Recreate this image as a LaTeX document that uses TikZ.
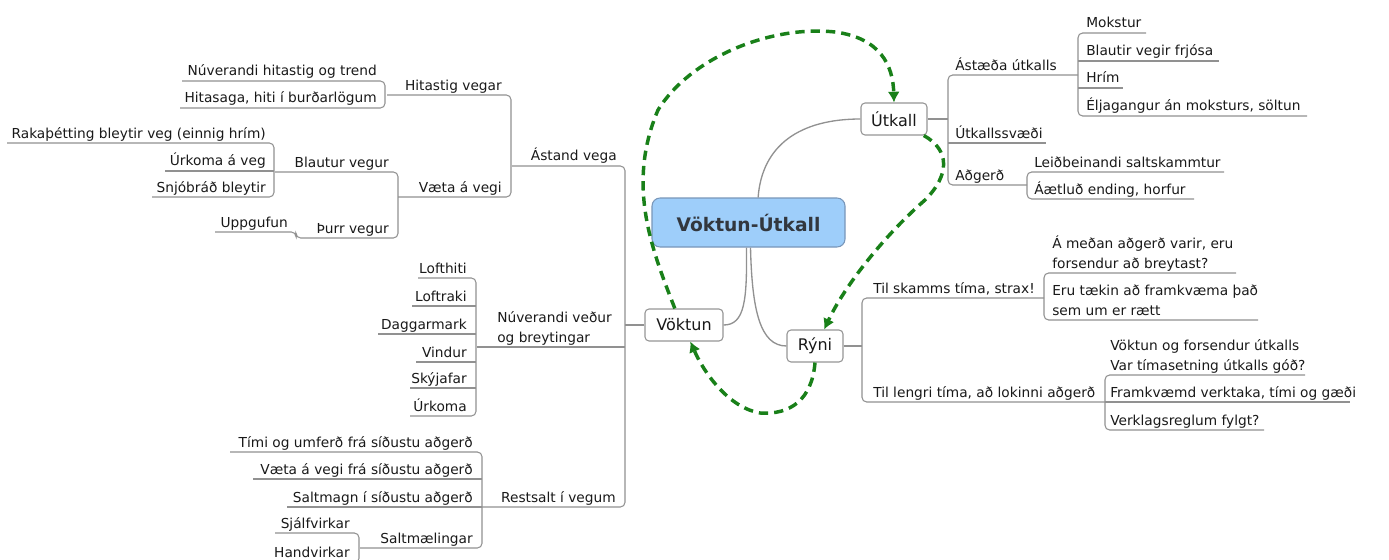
\documentclass[tikz,border=0pt]{standalone}
\usepackage{fontspec}
\setmainfont{DejaVu Sans}
\usetikzlibrary{arrows.meta,calc}
\definecolor{lnc}{RGB}{145,145,145}
\definecolor{txt}{RGB}{25,25,25}
\definecolor{boxc}{RGB}{150,150,150}
\definecolor{cenfill}{RGB}{158,206,250}
\definecolor{cenbord}{RGB}{120,150,185}
\definecolor{centxt}{RGB}{50,55,62}
\definecolor{dgreen}{RGB}{25,128,25}
\tikzset{
  lbl/.style={font=\fontsize{10.3}{14.6}\selectfont, text=txt, inner sep=0pt, align=left},
  lblr/.style={lbl, anchor=base east},
  lbll/.style={lbl, anchor=base west},
  ln/.style={draw=lnc, line width=0.8pt, rounded corners=3.5pt},
  cln/.style={draw=lnc, line width=1pt},
  topic/.style={draw=boxc, fill=white, rounded corners=3pt, line width=0.8pt, text=txt,
    font=\fontsize{12}{14}\selectfont, inner sep=0pt, minimum height=24pt},
  central/.style={draw=cenbord, fill=cenfill, rounded corners=6pt, line width=0.8pt, text=centxt,
    font=\fontsize{14}{16}\selectfont\bfseries, inner sep=0pt, minimum width=144.75pt, minimum height=36.75pt},
  dsh/.style={draw=dgreen, line width=2.6pt, dash pattern=on 7pt off 4.5pt, -{Latex[length=8pt,width=9pt]}}
}
\begin{document}
\begin{tikzpicture}[x=0.75pt,y=-0.75pt]
\useasboundingbox (0,0) rectangle (1389,560);

% main nodes
\node[central] (cen) at (748.5,222.5) {Vöktun-Útkall};
\node[topic, minimum width=49.5pt] (utk) at (894,119) {Útkall};
\node[topic, minimum width=58.5pt] (vok) at (684,325) {Vöktun};
\node[topic, minimum width=42pt] (ryn) at (815,346) {Rýni};

% central connectors
\draw[cln] (cen.69) .. controls (762,145) and (800,119) .. (utk.west);
\draw[cln] ($(cen.south)+(-2,0)$) .. controls (747,300) and (745,325) .. (vok.east);
\draw[cln] ($(cen.south)+(2,0)$) .. controls (752,310) and (760,346) .. (ryn.west);

% ---------- left side ----------
\draw[ln] (vok.west) -- (625,325);
\draw[ln] (512,166) -- (625,166) -- (625,507) -- (482,507);
\draw[ln] (477,347) -- (625,347);
\node[lblr] (astand) at (617,161) {Ástand vega};
\node[lbll] (nuv) at (497,342) {Núverandi veður\\og breytingar};
\node[lblr] (restsalt) at (616,502) {Restsalt í vegum};

% Astand vega
\draw[ln] (387,95) -- (511,95) -- (511,197) -- (398,197);
\node[lblr] (hitastig) at (502,90) {Hitastig vegar};
\node[lblr] (vaeta) at (502,192) {Væta á vegi};

\draw[ln] (182,81) -- (385,81) -- (385,108) -- (180,108);
\node[lblr] (nuvhit) at (377,76) {Núverandi hitastig og trend};
\node[lblr] (hitasaga) at (377,103) {Hitasaga, hiti í burðarlögum};

\draw[ln] (275,172) -- (398,172) -- (398,238) -- (296,238) -- (296,232) -- (215,232);
\node[lblr] (blautur) at (389,167) {Blautur vegur};
\node[lblr] (thurr) at (389,233) {Þurr vegur};
\node[lblr] (uppg) at (288,227) {Uppgufun};

\draw[ln] (7,143) -- (274,143) -- (274,197) -- (152,197);
\draw[ln] (165,171) -- (274,171);
\node[lblr] (raka) at (266,138) {Rakaþétting bleytir veg (einnig hrím)};
\node[lblr] (urkveg) at (266,166) {Úrkoma á veg};
\node[lblr] (snjo) at (266,192) {Snjóbráð bleytir};

% Nuverandi vedur
\draw[ln] (418,278) -- (476,278) -- (476,416) -- (410,416);
\draw[ln] (412,306) -- (476,306);
\draw[ln] (378,334) -- (476,334);
\draw[ln] (416,362) -- (476,362);
\draw[ln] (410,388) -- (476,388);
\node[lblr] (lofthiti) at (467,273) {Lofthiti};
\node[lblr] (loftraki) at (467,301) {Loftraki};
\node[lblr] (dagg) at (467,329) {Daggarmark};
\node[lblr] (vindur) at (467,357) {Vindur};
\node[lblr] (sky) at (467,383) {Skýjafar};
\node[lblr] (urkoma) at (467,411) {Úrkoma};

% Restsalt
\draw[ln] (230,452) -- (482,452) -- (482,548) -- (360,548);
\draw[ln] (253,479) -- (482,479);
\draw[ln] (287,507) -- (482,507);
\node[lblr] (timi) at (473,447) {Tími og umferð frá síðustu aðgerð};
\node[lblr] (vaetafra) at (473,474) {Væta á vegi frá síðustu aðgerð};
\node[lblr] (saltmagn) at (473,502) {Saltmagn í síðustu aðgerð};
\node[lblr] (saltmael) at (473,543) {Saltmælingar};

\draw[ln] (275,533) -- (359,533) -- (359,563) -- (273,563);
\node[lblr] (sjalf) at (350,528) {Sjálfvirkar};
\node[lblr] (hand) at (350,557) {Handvirkar};

% ---------- right side ----------
\draw[ln] (utk.east) -- (948,119);
\draw[ln] (1078,75) -- (948,75) -- (948,185) -- (1027,185);
\draw[ln] (948,143) -- (1046,143);
\node[lbll] (astaeda) at (955,70) {Ástæða útkalls};
\node[lbll] (utksv) at (955,138) {Útkallssvæði};
\node[lbll] (adgerd) at (955,180) {Aðgerð};

\draw[ln] (1146,33) -- (1078,33) -- (1078,116) -- (1307,116);
\draw[ln] (1078,61) -- (1219,61);
\draw[ln] (1078,88) -- (1123,88);
\node[lbll] (mokstur) at (1086,28) {Mokstur};
\node[lbll] (blautir) at (1086,56) {Blautir vegir frjósa};
\node[lbll] (hrim) at (1086,83) {Hrím};
\node[lbll] (elja) at (1086,111) {Éljagangur án moksturs, söltun};

\draw[ln] (1224,172) -- (1027,172) -- (1027,199) -- (1194,199);
\node[lbll] (leid) at (1034,167) {Leiðbeinandi saltskammtur};
\node[lbll] (aaet) at (1034,194) {Áætluð ending, horfur};

\draw[ln] (ryn.east) -- (862,346);
\draw[ln] (1044,298) -- (862,298) -- (862,402) -- (1105,402);
\node[lbll] (skamms) at (873,293) {Til skamms tíma, strax!};
\node[lbll] (lengri) at (873,397) {Til lengri tíma, að lokinni aðgerð};

\draw[ln] (1236,273) -- (1044,273) -- (1044,320) -- (1258,320);
\node[lbll] (medan) at (1052,268) {Á meðan aðgerð varir, eru\\forsendur að breytast?};
\node[lbll] (eru) at (1052,315) {Eru tækin að framkvæma það\\sem um er rætt};

\draw[ln] (1305,375) -- (1105,375) -- (1105,430) -- (1264,430);
\draw[ln] (1105,402) -- (1350,402);
\node[lbll] (voktunog) at (1110,370) {Vöktun og forsendur útkalls\\Var tímasetning útkalls góð?};
\node[lbll] (framkv) at (1110,397) {Framkvæmd verktaka, tími og gæði};
\node[lbll] (verkl) at (1110,425) {Verklagsreglum fylgt?};

% ---------- dashed green cycle ----------
\draw[dsh] (vok.119) .. controls (652,250) and (626,185) .. (658,110)
  .. controls (690,58) and (770,25) .. (835,32)
  .. controls (880,38) and (893,65) .. (utk.north);
\draw[dsh] (utk.-29) .. controls (950,150) and (950,175) .. (925,200)
  .. controls (885,235) and (845,285) .. (ryn.61);
\draw[dsh] (ryn.south) .. controls (812,400) and (790,415) .. (760,413)
  .. controls (730,408) and (705,375) .. (vok.-69);
\end{tikzpicture}
\end{document}
